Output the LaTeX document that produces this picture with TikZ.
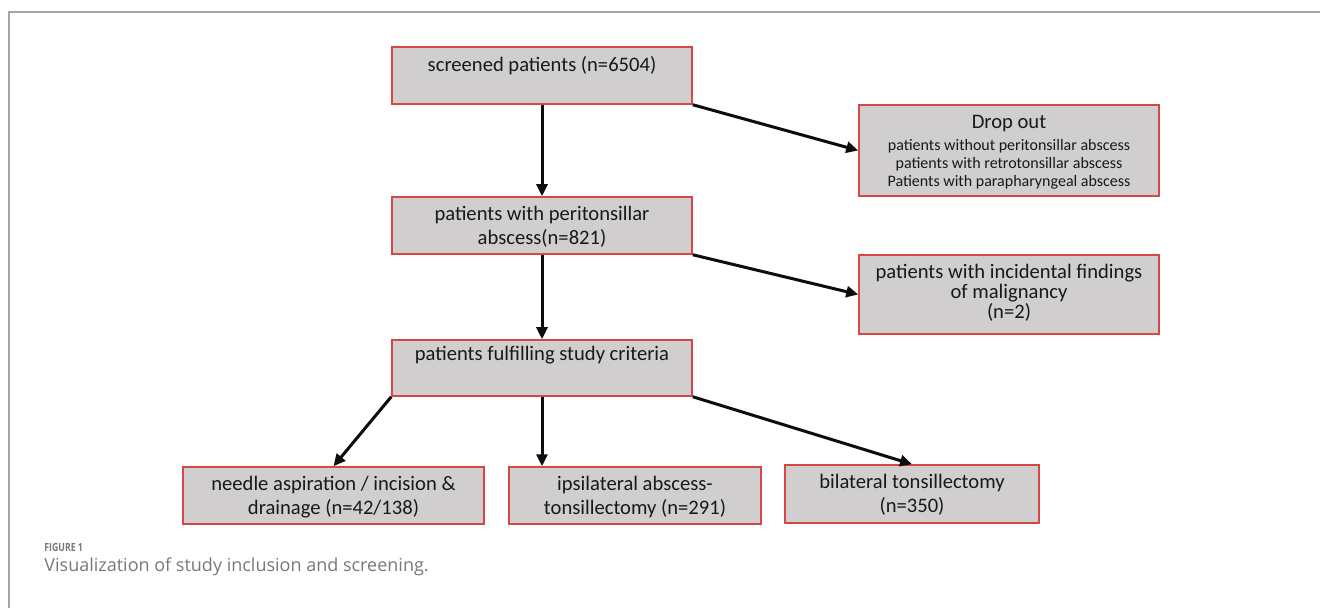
\documentclass[tikz,border=0pt]{standalone}
\usepackage{fontspec}
\setmainfont{Carlito}
\newfontfamily\capfont{Open Sans}
\newfontfamily\capnarrow[FakeStretch=0.78]{Open Sans}
\usetikzlibrary{arrows.meta,fit}
\definecolor{boxfill}{RGB}{208,206,206}
\definecolor{boxline}{RGB}{214,72,72}
\definecolor{framegrey}{RGB}{165,165,165}
\definecolor{capgrey}{RGB}{120,120,120}
\tikzset{
  box/.style={draw=boxline, fill=boxfill, line width=0.75pt, inner sep=0pt},
  txt/.style={font=\fontsize{10.3pt}{12pt}\selectfont, align=center, inner sep=0pt, text=black!90},
  small/.style={font=\fontsize{8pt}{9pt}\selectfont, align=center, inner sep=0pt, text=black!90},
  arr/.style={-{Triangle[length=6pt,width=5.5pt]}, line width=1.5pt, black!95},
  frame/.style={draw=framegrey, line width=1pt},
}
\begin{document}
\begin{tikzpicture}[x=0.5pt,y=-0.5pt]
\useasboundingbox[fill=white] (0,0) rectangle (1320,608);
% frame
\coordinate (fa) at (9,608);
\coordinate (fb) at (9,12);
\coordinate (fc) at (1320,12);
\draw[frame] (fa) -- (fb) -- (fc);
% boxes
\node[box, fit={(392,47) (692,104)}] (b1) {};
\node[box, fit={(859,105) (1159,196)}] (drop) {};
\node[box, fit={(392,197) (692,254)}] (b2) {};
\node[box, fit={(859,255) (1159,334)}] (inc) {};
\node[box, fit={(392,340) (692,396)}] (b3) {};
\node[box, fit={(183,467) (484,524)}] (needle) {};
\node[box, fit={(509,467) (761,524)}] (ipsi) {};
\node[box, fit={(785,465) (1039,523)}] (bilat) {};
% texts
\node[txt] (t1) at (542,66) {screened patients (n=6504)};
\node[txt] (tdrop) at (1009,124) {Drop out};
\node[small] (tdrop2) at (1009,164) {patients without peritonsillar abscess\\patients with retrotonsillar abscess\\Patients with parapharyngeal abscess};
\node[txt] (t2) at (542,227) {patients with peritonsillar\\abscess(n=821)};
\node[txt, font=\fontsize{10.3pt}{10pt}\selectfont] (tinc) at (1009,293) {patients with incidental findings\\of malignancy\\(n=2)};
\node[txt] (t3) at (542,355) {patients fulfilling study criteria};
\node[txt] (tneedle) at (333.5,497) {needle aspiration / incision \&\\drainage (n=42/138)};
\node[txt] (tipsi) at (635,497) {ipsilateral abscess-\\tonsillectomy (n=291)};
\node[txt] (tbilat) at (912,495) {bilateral tonsillectomy\\(n=350)};
% arrows
\draw[arr] (b1.south) -- (b2.north);
\draw[arr] (b1.south east) -- (drop.west);
\draw[arr] (b2.south) -- (b3.north);
\draw[arr] (b2.south east) -- (inc.west);
\draw[arr] (b3.south west) -- (needle.north);
\draw[arr] (b3.south) -- (b3.south |- ipsi.north);
\draw[arr] (b3.south east) -- (bilat.north);
% caption
\node[anchor=west, inner sep=0pt, text=capgrey, font=\capnarrow\fontsize{5.6pt}{6pt}\selectfont\bfseries] (cap1) at (44,547) {FIGURE 1};
\node[anchor=west, inner sep=0pt, text=capgrey, font=\capfont\fontsize{9pt}{10pt}\selectfont] (cap2) at (44,567) {Visualization of study inclusion and screening.};
\end{tikzpicture}
\end{document}
